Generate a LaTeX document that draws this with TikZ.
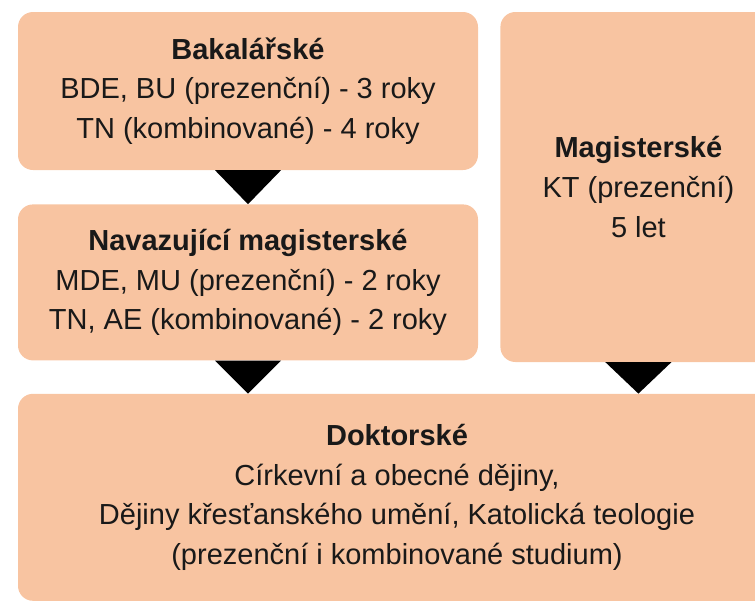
\documentclass[tikz,border=0pt]{standalone}
\usepackage{fontspec}
\setmainfont{Liberation Sans}
\usetikzlibrary{positioning,calc}
\definecolor{peach}{HTML}{F8C4A1}

\begin{document}
\begin{tikzpicture}[
    x=1pt, y=1pt,
    box/.style={fill=peach, rounded corners=15pt, align=center, inner sep=0pt, text=black!90, font=\fontsize{29}{39.8}\selectfont},
    tri/.style={fill=black}
]
\path[use as bounding box, clip] (0,0) rectangle (755,-606);
\node[box, minimum width=460pt, minimum height=158pt] (bak) at (248,-91) {\textbf{Bakalářské}\\BDE, BU (prezenční) - 3 roky\\TN (kombinované) - 4 roky};
\node[box, minimum width=460pt, minimum height=156pt, below=34pt of bak] (nav) {\textbf{Navazující magisterské}\\MDE, MU (prezenční) - 2 roky\\TN, AE (kombinované) - 2 roky};
\node[box, minimum width=276pt, minimum height=350pt, right=22pt of bak.north east, anchor=north west] (mag) {\textbf{Magisterské}\\KT (prezenční)\\5 let};
\node[box, minimum width=758pt, minimum height=207pt, below=33pt of nav.south west, anchor=north west] (dok) {\textbf{Doktorské}\\Církevní a obecné dějiny,\\Dějiny křesťanského umění, Katolická teologie\\(prezenční i kombinované studium)};
\fill[tri] ($(bak.south)+(-33,0)$) -- ++(66,0) -- (nav.north) -- cycle;
\fill[tri] ($(nav.south)+(-33,0)$) -- ++(66,0) -- (nav.south |- dok.north) -- cycle;
\fill[tri] ($(mag.south)+(-33,0)$) -- ++(66,0) -- (mag.south |- dok.north) -- cycle;
\end{tikzpicture}
\end{document}
